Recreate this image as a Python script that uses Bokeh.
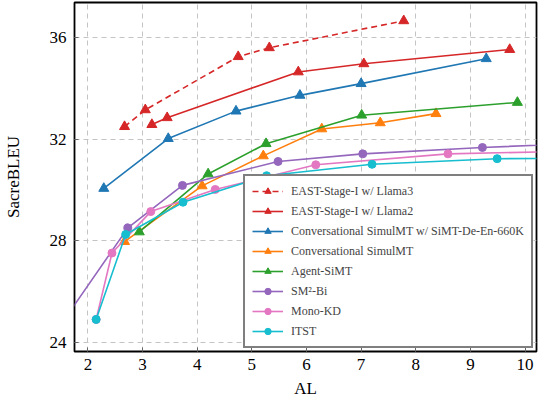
#latency vs quality plot (SacreBLEU against AL)
from bokeh.plotting import figure
from bokeh.embed import file_html
from bokeh.resources import INLINE
from bokeh.models import FixedTicker

#data, AL / SacreBLEU per system
llama3_al = [2.67, 3.05, 4.75, 5.32, 7.78]
llama3_bleu = [32.49, 33.15, 35.24, 35.59, 36.65]

llama2_al = [3.17, 3.45, 5.85, 7.05, 9.72]
llama2_bleu = [32.57, 32.84, 34.64, 34.96, 35.52]

conv660k_al = [2.29, 3.47, 4.71, 5.88, 7.00, 9.29]
conv660k_bleu = [30.06, 32.02, 33.10, 33.72, 34.18, 35.16]

conv_al = [2.67, 4.09, 5.21, 6.28, 7.35, 8.37]
conv_bleu = [27.97, 30.16, 31.34, 32.40, 32.64, 33.00]

agent_al = [2.94, 4.20, 5.26, 7.01, 9.86]
agent_bleu = [28.35, 30.63, 31.82, 32.94, 33.44]

sm2_al = [1.40, 2.73, 3.73, 5.48, 7.03, 9.22, 11.00]
sm2_bleu = [24.38, 28.51, 30.18, 31.12, 31.42, 31.67, 31.83]

mono_al = [2.15, 2.44, 3.15, 4.33, 6.17, 8.59, 11.00]
mono_bleu = [24.91, 27.52, 29.15, 30.02, 30.99, 31.42, 31.53]

itst_al = [2.15, 2.69, 3.74, 5.27, 7.20, 9.49, 10.60]
itst_bleu = [24.91, 28.25, 29.52, 30.56, 31.01, 31.23, 31.24]

x_ticks = [2, 3, 4, 5, 6, 7, 8, 9, 10]
y_ticks = [24, 28, 32, 36]

#name, x, y, colour, marker, dash
series = [
    ("EAST-Stage-I w/ Llama3", llama3_al, llama3_bleu, "#d62728", "triangle", "6 4"),
    ("EAST-Stage-I w/ Llama2", llama2_al, llama2_bleu, "#d62728", "triangle", "solid"),
    ("Conversational SimulMT w/ SiMT-De-En-660K", conv660k_al, conv660k_bleu, "#1f77b4", "triangle", "solid"),
    ("Conversational SimulMT", conv_al, conv_bleu, "#ff7f0e", "triangle", "solid"),
    ("Agent-SiMT", agent_al, agent_bleu, "#2ca02c", "triangle", "solid"),
    ("SM\u00b2-Bi", sm2_al, sm2_bleu, "#9467bd", "circle", "solid"),
    ("Mono-KD", mono_al, mono_bleu, "#e377c2", "circle", "solid"),
    ("ITST", itst_al, itst_bleu, "#17becf", "circle", "solid"),
]

FONT = "Liberation Serif"

p = figure(width=538, height=400, x_range=(1.754, 10.21), y_range=(23.65, 37.37),
           output_backend="svg", toolbar_location=None,
           min_border_left=69, min_border_right=2, min_border_top=2, min_border_bottom=36)

for name, xs, ys, col, mk, dash in series:
    p.line(xs, ys, line_color=col, line_width=1.6, line_dash=dash, legend_label=name)
    size = 10 if mk == "triangle" else 8
    p.scatter(xs, ys, marker=mk, size=size, fill_color=col, line_color=col, legend_label=name)

#frame and grid
p.outline_line_color = "black"
p.outline_line_width = 1.8
p.outline_line_alpha = 1.0
p.background_fill_color = "white"
p.border_fill_color = "white"
p.grid.grid_line_color = "#c4c4c4"
p.grid.grid_line_dash = "5 4"
p.grid.grid_line_width = 1

p.xaxis.ticker = FixedTicker(ticks=x_ticks)
p.yaxis.ticker = FixedTicker(ticks=y_ticks)
p.xgrid.ticker = FixedTicker(ticks=x_ticks)
p.ygrid.ticker = FixedTicker(ticks=y_ticks)

for ax in [p.xaxis, p.yaxis]:
    ax.axis_line_color = None
    ax.major_tick_in = 4
    ax.major_tick_out = 0
    ax.major_tick_line_color = "#666666"
    ax.minor_tick_line_color = None
    ax.major_label_text_font = FONT
    ax.major_label_text_font_size = "17px"
    ax.major_label_text_color = "black"
    ax.axis_label_text_font = FONT
    ax.axis_label_text_font_size = "17px"
    ax.axis_label_text_font_style = "normal"
    ax.axis_label_text_color = "black"

p.xaxis.axis_label = "AL"
p.yaxis.axis_label = "SacreBLEU"
p.xaxis.major_label_standoff = 7
p.xaxis.axis_label_standoff = 6
p.yaxis.major_label_standoff = 8
p.yaxis.axis_label_standoff = 24

#legend box in the lower right corner
p.legend.location = "bottom_right"
p.legend.margin = 3
p.legend.padding = 7
p.legend.spacing = 4
p.legend.label_height = 16
p.legend.glyph_height = 16
p.legend.glyph_width = 31
p.legend.label_standoff = 8
p.legend.label_text_font = FONT
p.legend.label_text_font_size = "12px"
p.legend.border_line_color = "black"
p.legend.border_line_width = 2
p.legend.background_fill_alpha = 1.0

open("out.html", "w").write(file_html(p, INLINE))
